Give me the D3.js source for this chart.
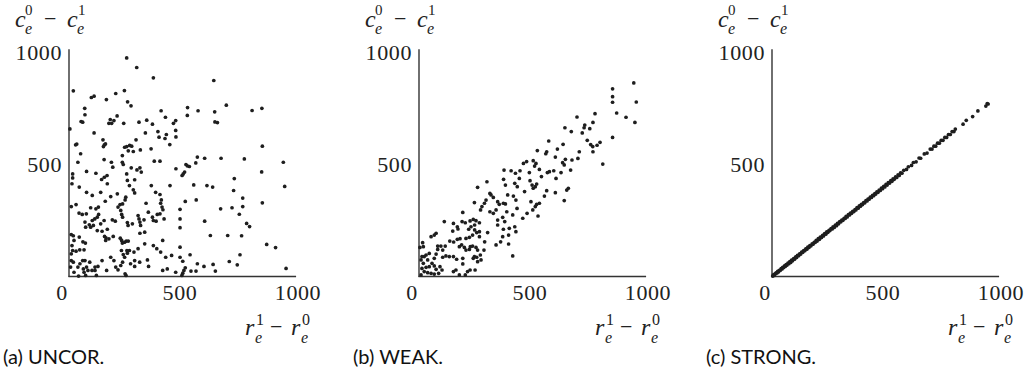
<!DOCTYPE html>
<html>
<head>
<meta charset="utf-8">
<script src="https://cdn.jsdelivr.net/npm/d3@7"></script>
<style>
  body { margin: 0; background: #fff; }
  svg { display: block; }
  .tick_label { font-family: 'Liberation Serif', serif; font-size: 22px; letter-spacing: 0.6px; fill: #222; }
  .math { font-family: 'Liberation Serif', serif; fill: #222; }
  .caption { font-family: Lato, sans-serif; font-size: 20px; fill: #111; }
</style>
</head>
<body>
<div id="graphic"></div>
<script>
// panel captions and axis ticks
const captions = ['(a) UNCOR.', '(b) WEAK.', '(c) STRONG.'];
const xTicks = [0, 500, 1000];
const yTicks = [500, 1000];

// (r1 - r0, c0 - c1) pairs
const uncorPoints = [
  [253,976],[297,933],[370,887],[19,829],[98,799],[110,805],[164,790],[205,817],[243,830],[257,780],
  [272,762],[69,751],[70,722],[404,740],[423,711],[468,696],[458,684],[341,698],[366,680],[307,689],
  [240,684],[181,701],[175,684],[187,684],[197,696],[211,717],[53,692],[60,689],[4,659],[110,641],
  [149,610],[155,588],[151,580],[160,592],[34,591],[29,588],[51,548],[244,577],[253,580],[266,585],
  [275,582],[260,561],[282,558],[294,610],[313,565],[335,641],[360,570],[390,647],[395,622],[427,634],
  [421,616],[468,652],[469,623],[442,589],[39,510],[154,522],[186,510],[234,540],[234,510],[374,515],
  [399,515],
  [635,875],[520,754],[519,719],[566,740],[639,735],[690,765],[803,741],[846,751],[640,690],[651,687],
  [848,582],[563,533],[595,528],[667,528],[769,525],[940,510],
  [77,469],[16,458],[118,461],[155,443],[167,451],[143,433],[168,414],[192,488],[238,500],[253,458],
  [273,485],[288,432],[265,406],[282,387],[256,429],[298,476],[311,485],[317,466],[469,481],
  [16,440],[13,414],[45,399],[77,376],[102,362],[139,376],[159,336],[183,357],[212,369],[249,354],
  [288,373],[338,327],[361,406],[380,376],[399,366],[405,342],[443,406],
  [10,312],[31,321],[44,283],[58,277],[76,280],[95,307],[118,302],[129,310],[130,277],[113,257],
  [102,250],[124,265],[139,235],[154,250],[168,211],[190,253],[203,247],[215,310],[224,321],[235,324],
  [246,342],[227,295],[231,277],[235,265],[256,241],[259,228],[278,235],[303,272],[307,257],[311,243],
  [314,228],[329,253],[332,198],[311,193],[348,287],[370,250],[366,265],[382,247],[387,277],[399,280],
  [408,310],[412,298],[402,327],[417,257],
  [10,187],[19,182],[22,161],[45,176],[61,155],[89,231],[95,220],[107,228],[70,243],[73,220],
  [124,205],[145,202],[156,179],[162,173],[161,161],[175,168],[194,179],[225,171],[231,161],[244,153],
  [251,158],[234,149],[260,158],[285,109],[265,116],[254,116],[230,116],[238,98],[244,86],[256,104],
  [303,124],[332,146],[370,138],[385,124],[402,109],[411,161],[424,86],[450,94],
  [13,138],[16,116],[10,101],[31,113],[47,119],[66,119],[72,149],[70,71],[60,71],[48,57],
  [39,42],[63,34],[77,42],[91,64],[114,42],[114,27],[127,45],[101,27],[83,27],[66,19],
  [10,71],[19,64],[7,42],[22,19],[42,2],[73,5],[120,5],[145,71],[165,27],[183,86],
  [197,71],[205,42],[215,30],[227,49],[235,64],[246,12],[250,5],[270,57],[288,71],[288,45],
  [310,64],[344,74],[349,45],[411,27],[431,34],[468,19],
  [513,500],[519,494],[528,491],[556,507],[501,458],[507,466],[496,451],[725,437],[845,467],[946,402],
  [547,409],[605,406],[630,399],[722,384],[510,335],[558,342],[665,302],[715,307],[762,350],[762,312],
  [747,278],[848,329],[487,257],[595,247],[779,237],[792,223],[620,183],[696,183],[757,182],[487,131],
  [867,143],[906,129],[531,97],[750,97],[499,68],[563,57],[592,45],[632,54],[703,67],[738,52],
  [642,24],[952,36],[510,39],[504,27],[535,24],[557,24],[499,15],[495,5],[487,300],[487,218],[487,86]
];

const weakPoints = [
  [942,864],[849,838],[849,803],[849,778],[953,779],[867,730],[908,711],[947,688],[772,727],[693,712],
  [763,688],[727,676],[724,664],[749,660],[640,664],[668,647],[716,641],[849,621],[569,605],[738,608],
  [753,589],[762,580],[781,586],[794,599],[632,590],[607,569],[519,562],[560,557],[556,548],[598,533],
  [703,557],[763,557],[642,523],[697,527],
  [458,505],[472,513],[501,517],[513,505],[630,508],[671,520],[806,502],
  [373,475],[404,472],[423,461],[443,472],[484,464],[507,493],[528,478],[537,446],[563,464],[572,468],
  [591,472],[623,464],[637,498],[665,475],[601,438],[298,423],[371,434],[379,408],[420,416],[431,401],
  [440,438],[463,379],[487,428],[496,408],[501,394],[510,401],[516,413],[550,359],[560,383],[598,374],
  [648,386],[655,394],[637,339],[257,398],[326,353],[311,371],[316,364],[389,364],[414,359],[425,341],
  [370,327],[379,324],[345,334],[352,322],[338,297],[326,282],[311,289],[276,312],[270,297],[287,327],
  [294,341],[243,330],[385,289],[411,275],[367,264],[376,245],[345,252],[345,230],[396,215],[420,222],
  [425,200],[370,211],[393,185],[367,178],[455,260],[474,282],[499,297],[491,334],[510,312],[516,322],
  [528,327],[522,270],[430,304],
  [192,286],[111,245],[151,237],[168,222],[148,203],[171,212],[189,245],[203,240],[224,248],[238,255],
  [250,249],[265,240],[244,230],[228,222],[218,211],[244,208],[253,196],[265,200],[265,178],[235,185],
  [221,175],[206,170],[180,169],[168,166],[135,158],[152,154],[75,193],[67,185],[53,178],[16,151],
  [19,133],[82,136],[96,136],[115,136],[177,133],[187,141],[199,130],[206,118],[221,121],[225,133],
  [235,136],[250,130],[257,118],[243,89],[253,86],[269,96],[285,118],[288,155],[301,196],[338,141],
  [358,155],[393,145],[411,92],[272,74],[257,66],[238,81],[246,29],[224,29],[213,22],[203,7],
  [177,7],[162,29],[151,22],[192,56],[165,77],[151,89],[133,89],[118,92],[104,86],[75,100],
  [67,81],[45,103],[31,96],[23,89],[13,89],[9,74],[19,59],[38,74],[45,44],[57,59],
  [67,47],[75,32],[92,44],[101,29],[86,14],[67,11],[53,14],[38,17],[23,22],[9,7],
  [13,36],[31,41],[4,130],[104,118],[192,81],[82,121]
];

const strongPoints = [
  [3,2],[6,7],[9,5],[12,11],[15,12],[18,16],[22,16],[25,23],[28,20],[32,28],[36,27],[40,35],[44,34],
  [47,41],[51,40],[55,47],[58,45],[62,53],[66,51],[70,60],[74,57],[78,66],[82,63],[86,73],[90,70],
  [95,80],[99,77],[104,88],[108,85],[112,94],[117,93],[121,101],[126,100],[130,109],[135,108],[139,116],
  [144,115],[148,123],[153,122],[157,131],[162,130],[166,138],[171,137],[176,146],[180,144],[185,153],
  [189,152],[194,161],[198,158],[203,169],[208,166],[212,176],[217,174],[222,184],[226,181],[231,192],
  [236,189],[240,199],[245,197],[250,206],[254,205],[259,214],[264,212],[268,222],[273,219],[278,230],
  [283,227],[287,237],[292,235],[297,245],[302,244],[306,252],[311,251],[316,260],[321,259],[325,268],
  [330,266],[335,276],[340,275],[344,283],[349,282],[354,291],[359,290],[364,299],[368,297],[373,308],
  [378,305],[383,315],[388,314],[392,322],[397,321],[402,330],[407,329],[412,339],[417,337],[421,346],
  [426,345],[431,354],[436,353],[441,362],[446,361],[451,370],[455,368],[460,378],[465,376],[470,386],
  [475,384],[480,395],[485,392],[490,403],[495,400],[500,411],[505,408],[510,419],[516,417],[521,428],
  [526,425],[531,436],[536,434],[542,445],[547,442],[553,454],[558,451],[564,463],[570,461],[578,474],
  [590,478],[598,490],[612,496],[620,509],[632,512],[645,529],[652,528],[668,547],[680,551],[694,569],
  [702,569],[710,582],[718,582],[726,595],[734,595],[742,608],[750,608],[758,621],[766,621],[774,634],
  [782,634],[790,647],[798,647],[804,658],[838,680],[852,697],[880,714],[903,739],[938,761],[944,772],
  [948,770]
];

const panels = [
  { points: uncorPoints, left: 69 },
  { points: weakPoints, left: 419 },
  { points: strongPoints, left: 772 }
];

const svg = d3.select('#graphic').append('svg')
  .attr('width', 1031)
  .attr('height', 386);

// draws a small math expression made of positioned pieces
function drawMath(g, x0, y0, parts) {
  parts.forEach(p => {
    g.append('text')
      .attr('class', 'math')
      .attr('x', x0 + p[1])
      .attr('y', y0 + p[2])
      .attr('font-size', p[3])
      .attr('font-style', p[4] ? 'italic' : 'normal')
      .text(p[0]);
  });
}

panels.forEach((panel, i) => {
  const x = d3.scaleLinear().domain([0, 1000]).range([panel.left, panel.left + 228]);
  const y = d3.scaleLinear().domain([0, 1000]).range([276.5, 52.5]);

  const g = svg.append('g');

  // axis lines (open, left/bottom only)
  g.append('line')
    .attr('x1', x(0)).attr('x2', x(0))
    .attr('y1', y(1014)).attr('y2', y(0) + 0.5)
    .attr('stroke', '#333').attr('stroke-width', 1.4);
  g.append('line')
    .attr('x1', x(0) - 0.5).attr('x2', x(996))
    .attr('y1', y(0)).attr('y2', y(0))
    .attr('stroke', '#333').attr('stroke-width', 1.4);

  // tick labels
  g.selectAll('.x_label')
    .data(xTicks)
    .enter().append('text')
    .attr('class', 'tick_label')
    .attr('x', d => x(d) + (d / 1000) * 8 - 7)
    .attr('y', 300)
    .attr('text-anchor', 'middle')
    .text(d => d);

  g.selectAll('.y_label')
    .data(yTicks)
    .enter().append('text')
    .attr('class', 'tick_label')
    .attr('x', x(0) - 7)
    .attr('y', d => y(d) + 7)
    .attr('text-anchor', 'end')
    .text(d => d);

  // points
  g.selectAll('.dot')
    .data(panel.points)
    .enter().append('circle')
    .attr('cx', d => x(d[0]))
    .attr('cy', d => y(d[1]))
    .attr('r', 1.85)
    .attr('fill', '#1e1e1e');

  // y title: c_e^0 - c_e^1
  drawMath(g, panel.left - 54, 27, [
    ['c', 0, 0, 24, true],
    ['0', 10, -12, 15, false],
    ['e', 10, 7, 16, true],
    ['\u2212', 29, -1, 22, false],
    ['c', 52, 0, 24, true],
    ['1', 63, -12, 15, false],
    ['e', 62, 7, 16, true]
  ]);

  // x title: r_e^1 - r_e^0
  drawMath(g, panel.left + 176, 335, [
    ['r', 0, 0, 24, true],
    ['1', 11, -10, 16, false],
    ['e', 10, 8, 16, true],
    ['\u2212', 25, -1, 22, false],
    ['r', 46, 0, 24, true],
    ['0', 57, -10, 16, false],
    ['e', 56, 8, 16, true]
  ]);

  g.append('text')
    .attr('class', 'caption')
    .attr('x', panel.left - 66)
    .attr('y', 364)
    .text(captions[i]);
});
</script>
</body>
</html>
